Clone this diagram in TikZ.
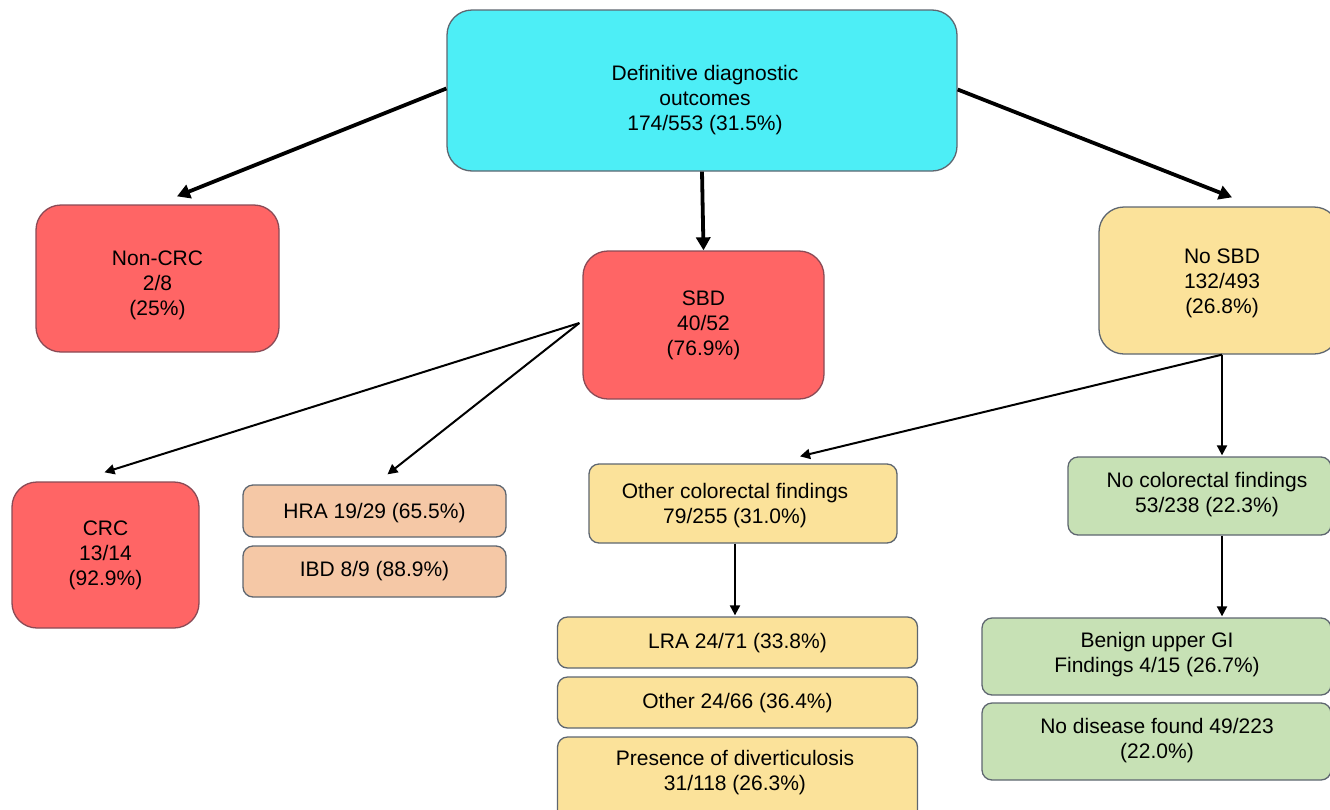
\documentclass[tikz,border=0pt]{standalone}
\usepackage{fontspec}
\setmainfont{Liberation Sans}
\usetikzlibrary{arrows.meta,calc}
\definecolor{cyanbox}{HTML}{4DEEF6}
\definecolor{redbox}{HTML}{FF6565}
\definecolor{yelbox}{HTML}{FBE29A}
\definecolor{peachbox}{HTML}{F5C8A6}
\definecolor{greenbox}{HTML}{C7E1B5}
\definecolor{edgegray}{HTML}{5E6670}
\definecolor{edgered}{HTML}{8A4A55}
\tikzset{
  box/.style={draw=edgegray, line width=1.3pt, inner sep=0pt},
  bigbox/.style={box, rounded corners=25pt},
  smallbox/.style={box, rounded corners=10pt},
  txt/.style={align=center, inner sep=0pt, font=\fontsize{21}{25}\selectfont},
  thickarr/.style={line width=3.8pt, -{Triangle[length=13pt,width=14pt]}},
  thinarr/.style={line width=2pt, -{Triangle[length=10pt,width=10pt]}},
}
\begin{document}
\begin{tikzpicture}[x=1pt,y=-1pt]
\useasboundingbox[fill=white] (0,0) rectangle (1330,809);
% boxes
\node[bigbox, fill=cyanbox, minimum width=510pt, minimum height=161pt] (top) at (702,90.5) {};
\node[bigbox, fill=redbox, draw=edgered, minimum width=243pt, minimum height=147pt] (noncrc) at (157.5,278.5) {};
\node[bigbox, fill=redbox, draw=edgered, minimum width=241pt, minimum height=148pt] (sbd) at (703.5,325) {};
\node[bigbox, fill=yelbox, minimum width=240pt, minimum height=147pt] (nosbd) at (1219,280.5) {};
\node[bigbox, fill=redbox, draw=edgered, minimum width=187pt, minimum height=146pt] (crc) at (105.5,555) {};
\node[smallbox, fill=peachbox, minimum width=263pt, minimum height=52pt] (hra) at (374.5,511) {};
\node[smallbox, fill=peachbox, minimum width=263pt, minimum height=51pt] (ibd) at (374.5,571.5) {};
\node[smallbox, fill=yelbox, minimum width=308pt, minimum height=79pt] (ocf) at (743,503.5) {};
\node[smallbox, fill=greenbox, minimum width=263pt, minimum height=78pt] (ncf) at (1199.5,496) {};
\node[smallbox, fill=yelbox, minimum width=360pt, minimum height=51pt] (lra) at (737.5,642.5) {};
\node[smallbox, fill=yelbox, minimum width=360pt, minimum height=51pt] (oth) at (737.5,702.5) {};
\node[smallbox, fill=yelbox, minimum width=360pt, minimum height=90pt] (div) at (737.5,782) {};
\node[smallbox, fill=greenbox, minimum width=349pt, minimum height=77pt] (ben) at (1156.5,656.5) {};
\node[smallbox, fill=greenbox, minimum width=349pt, minimum height=77pt] (nod) at (1156.5,741.5) {};
% texts
\node[txt] (top-t) at (705,100) {Definitive diagnostic\\outcomes\\174/553 (31.5\%)};
\node[txt] (noncrc-t) at (157.5,285) {Non-CRC\\2/8\\(25\%)};
\node[txt] (sbd-t) at (703.5,325) {SBD\\40/52\\(76.9\%)};
\node[txt] (nosbd-t) at (1222,283) {No SBD\\132/493\\(26.8\%)};
\node[txt] (crc-t) at (105.5,555) {CRC\\13/14\\(92.9\%)};
\node[txt] (hra-t) at (374.5,513) {HRA 19/29 (65.5\%)};
\node[txt] (ibd-t) at (374.5,571) {IBD 8/9 (88.9\%)};
\node[txt] (ocf-t) at (735,506) {Other colorectal findings\\79/255 (31.0\%)};
\node[txt] (ncf-t) at (1207,495) {No colorectal findings\\53/238 (22.3\%)};
\node[txt] (lra-t) at (737.5,643) {LRA 24/71 (33.8\%)};
\node[txt] (oth-t) at (737.5,703) {Other 24/66 (36.4\%)};
\node[txt] (div-t) at (735,773) {Presence of diverticulosis\\31/118 (26.3\%)};
\node[txt] (ben-t) at (1157,655) {Benign upper GI\\Findings 4/15 (26.7\%)};
\node[txt] (nod-t) at (1157,741) {No disease found 49/223\\(22.0\%)};
% connectors
\draw[thickarr] ([yshift=2pt]top.west) -- ([xshift=19.5pt,yshift=8pt]noncrc.north);
\draw[thickarr] (top.south) -- (sbd.north);
\draw[thickarr] ([yshift=1pt]top.east) -- ([xshift=13pt,yshift=9pt]nosbd.north);
\coordinate (sbdout) at ([xshift=-3pt,yshift=2pt]sbd.west);
\draw[thinarr] (sbdout) -- ([xshift=-1pt,yshift=9pt]crc.north);
\draw[thinarr] (sbdout) -- ([xshift=13pt,yshift=10pt]hra.north);
\coordinate (nosbdout) at ([xshift=3pt]nosbd.south);
\draw[thinarr] (nosbdout) -- ([xshift=57pt,yshift=7pt]ocf.north);
\draw[thinarr] (nosbdout) -- ([xshift=22.5pt,yshift=1pt]ncf.north);
\draw[thinarr] ([xshift=-8pt]ocf.south) -- ([xshift=-2.5pt,yshift=1pt]lra.north);
\draw[thinarr] ([xshift=22.5pt]ncf.south) -- ([xshift=65.5pt,yshift=1pt]ben.north);
\end{tikzpicture}
\end{document}
